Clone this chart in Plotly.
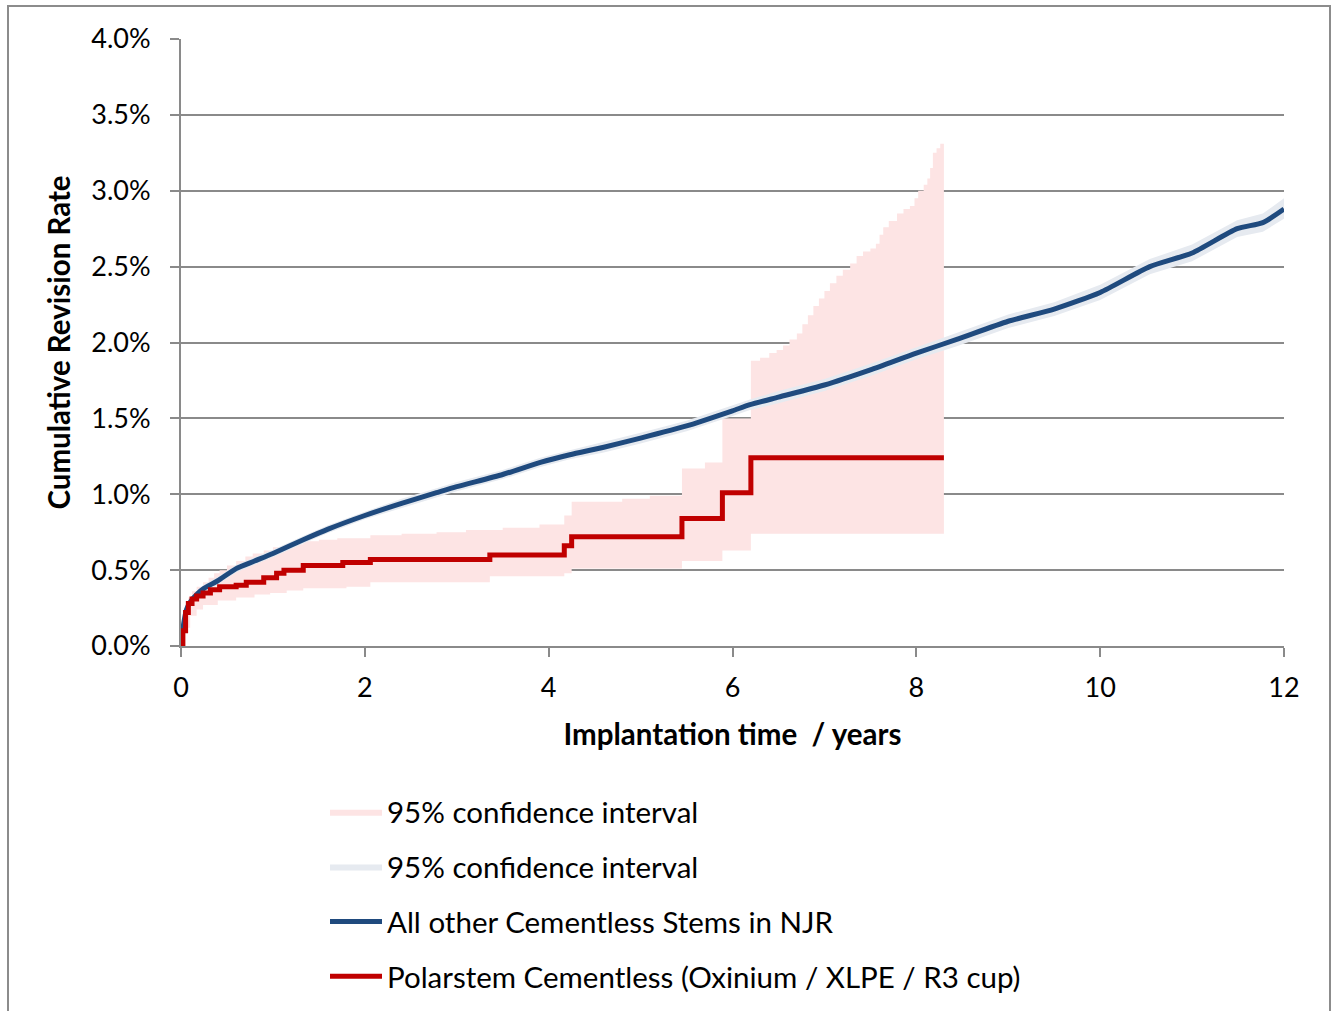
import plotly.graph_objects as go

# ---- Data (years, cumulative revision rate in %) ----
njr_x = [0, 0.03, 0.06, 0.1, 0.17, 0.25, 0.4, 0.6, 0.8, 1.0, 1.33, 1.6, 2.0, 2.4, 2.78, 3.0,
         3.5, 3.91, 4.23, 4.6, 5.0, 5.5, 6.0, 6.19, 6.5, 7.0, 7.5, 8.0, 8.44, 9.0, 9.5, 10.0,
         10.54, 11.0, 11.49, 11.77, 12.0]
njr_y = [0, 0.15, 0.24, 0.29, 0.34, 0.38, 0.43, 0.51, 0.56, 0.61, 0.70, 0.77, 0.86, 0.94, 1.01, 1.05,
         1.13, 1.21, 1.26, 1.31, 1.37, 1.45, 1.55, 1.59, 1.64, 1.72, 1.82, 1.93, 2.02, 2.14, 2.22, 2.33,
         2.50, 2.59, 2.75, 2.79, 2.88]
njr_lo = [0, 0.14, 0.225, 0.27, 0.32, 0.355, 0.405, 0.485, 0.535, 0.585, 0.675, 0.745, 0.835, 0.91, 0.98, 1.02,
          1.10, 1.18, 1.23, 1.275, 1.335, 1.415, 1.515, 1.555, 1.60, 1.68, 1.78, 1.89, 1.975, 2.095, 2.175, 2.28,
          2.45, 2.535, 2.695, 2.73, 2.815]
njr_hi = [0, 0.16, 0.255, 0.31, 0.36, 0.405, 0.455, 0.535, 0.585, 0.635, 0.725, 0.795, 0.885, 0.97, 1.04, 1.08,
          1.16, 1.24, 1.29, 1.345, 1.405, 1.485, 1.585, 1.625, 1.68, 1.76, 1.86, 1.97, 2.065, 2.185, 2.265, 2.38,
          2.55, 2.645, 2.805, 2.85, 2.95]

polar_x = [0, 0.02, 0.05, 0.08, 0.12, 0.17, 0.24, 0.32, 0.42, 0.6, 0.71, 0.9, 1.04, 1.12, 1.33, 1.76,
           2.06, 3.36, 4.17, 4.25, 5.45, 5.89, 6.2, 8.3]
polar_y = [0, 0.10, 0.22, 0.28, 0.31, 0.33, 0.35, 0.37, 0.39, 0.40, 0.42, 0.45, 0.48, 0.50, 0.53, 0.55,
           0.57, 0.60, 0.66, 0.72, 0.84, 1.01, 1.24, 1.24]

polar_hi_x = [0, 0.02, 0.05, 0.08, 0.12, 0.17, 0.24, 0.3, 0.36, 0.42, 0.5, 0.6, 0.7, 0.78, 0.9, 1.0, 1.15,
              1.33, 1.5, 1.7, 2.06, 2.4, 2.78, 3.1, 3.5, 3.9, 4.17,
              4.25, 4.8, 5.1, 5.45, 5.7, 5.89,
              6.2, 6.3, 6.4, 6.48, 6.55, 6.62, 6.7, 6.76, 6.82, 6.88, 6.94, 7.0, 7.06, 7.13, 7.2, 7.28,
              7.35, 7.42, 7.5, 7.56, 7.6, 7.64, 7.7, 7.79, 7.86, 7.93, 7.98, 8.02, 8.08, 8.12, 8.15, 8.18,
              8.22, 8.26, 8.3]
polar_hi_y = [0, 0.12, 0.24, 0.32, 0.36, 0.39, 0.42, 0.45, 0.48, 0.50, 0.53, 0.56, 0.59, 0.61, 0.63, 0.65, 0.67,
              0.69, 0.70, 0.71, 0.73, 0.74, 0.75, 0.765, 0.78, 0.80, 0.86,
              0.95, 0.97, 0.99, 1.17, 1.21, 1.50,
              1.88, 1.90, 1.93, 1.95, 1.98, 2.02, 2.06, 2.12, 2.18, 2.24, 2.29, 2.34, 2.39, 2.44, 2.48, 2.52,
              2.57, 2.60, 2.62, 2.65, 2.71, 2.76, 2.80, 2.85, 2.88, 2.90, 2.95, 3.00, 3.04, 3.08, 3.15, 3.25,
              3.28, 3.31, 3.35]
polar_lo_x = [0, 0.05, 0.1, 0.17, 0.24, 0.4, 0.6, 0.8, 0.97, 1.15, 1.33, 1.8, 2.06, 3.36, 4.17, 4.25, 5.45, 5.89, 6.2, 8.3]
polar_lo_y = [0, 0.12, 0.20, 0.24, 0.27, 0.30, 0.32, 0.34, 0.35, 0.365, 0.38, 0.39, 0.42, 0.46, 0.48, 0.51, 0.56, 0.63, 0.74, 0.74]

x_ticks = [0, 2, 4, 6, 8, 10, 12]
y_ticks = [0, 0.5, 1.0, 1.5, 2.0, 2.5, 3.0, 3.5, 4.0]

BLUE = "#1F4A7E"
RED = "#C00000"
PINK = "#FDE4E4"
GREYBLUE = "#E6EAF0"
GRID = "#8A8A8A"
FONT = "Lato"

fig = go.Figure()

# Pink CI (Polarstem)
fig.add_trace(go.Scatter(x=polar_lo_x, y=polar_lo_y, mode="lines", line=dict(width=0, shape="hv"),
                         showlegend=False, hoverinfo="skip"))
fig.add_trace(go.Scatter(x=polar_hi_x, y=polar_hi_y, mode="lines", line=dict(width=0, shape="hv"),
                         fill="tonexty", fillcolor=PINK, name="95% confidence interval",
                         legendgroup="a", legendrank=1))
# Grey CI (NJR)
fig.add_trace(go.Scatter(x=njr_x, y=njr_lo, mode="lines", line=dict(width=0),
                         showlegend=False, hoverinfo="skip"))
fig.add_trace(go.Scatter(x=njr_x, y=njr_hi, mode="lines", line=dict(width=0),
                         fill="tonexty", fillcolor=GREYBLUE, name="95% confidence interval",
                         legendgroup="b", legendrank=2))
# Lines
fig.add_trace(go.Scatter(x=njr_x, y=njr_y, mode="lines", line=dict(color=BLUE, width=5, shape="spline", smoothing=0.6),
                         name="All other Cementless Stems in NJR", legendgroup="c", legendrank=3))
fig.add_trace(go.Scatter(x=polar_x, y=polar_y, mode="lines", line=dict(color=RED, width=5, shape="hv"),
                         name="Polarstem Cementless (Oxinium / XLPE / R3 cup)", legendgroup="d", legendrank=4))

# figure is taller than the window so the legend never forces the margins;
# the page is clipped at the window height
W, H = 1337, 1060
L, T = 181, 39
PW, PH = 1103, 607
R = W - L - PW
B = H - T - PH

def page_x(px):
    return (px - L) / PW

def page_y(py):
    return (T + PH - py) / PH

fig.add_shape(type="rect", xref="paper", yref="paper",
              x0=page_x(8), x1=page_x(1330), y0=page_y(1040), y1=page_y(6),
              line=dict(color="#8C8C8C", width=2), fillcolor="rgba(0,0,0,0)", layer="below")

fig.update_layout(
    width=W, height=H,
    margin=dict(l=L, r=R, t=T, b=B),
    plot_bgcolor="white", paper_bgcolor="white",
    font=dict(family=FONT, color="black", size=27),
    showlegend=True,
    legend=dict(x=page_x(325), y=page_y(786), xanchor="left", yanchor="top",
                font=dict(family=FONT, size=29.5, color="black"), itemwidth=52,
                tracegroupgap=13.5, traceorder="grouped", bgcolor="rgba(0,0,0,0)"),
    xaxis=dict(range=[0, 12], tickvals=x_ticks, ticktext=[str(v) for v in x_ticks],
               showgrid=False, showline=True, linecolor=GRID, linewidth=2,
               ticks="outside", ticklen=9, tickwidth=2, tickcolor=GRID,
               tickfont=dict(family=FONT, size=27), zeroline=False, ticklabelstandoff=8,
               title=dict(text="<b>Implantation time  / years</b>", font=dict(family=FONT, size=29.5), standoff=22)),
    yaxis=dict(range=[0, 4], tickvals=y_ticks, ticktext=[f"{v:.1f}%" for v in y_ticks],
               showgrid=True, gridcolor=GRID, gridwidth=2,
               showline=True, linecolor=GRID, linewidth=2,
               ticks="outside", ticklen=9, tickwidth=2, tickcolor=GRID,
               tickfont=dict(family=FONT, size=27), zeroline=False, ticklabelstandoff=14,
               title=dict(text="<b>Cumulative Revision Rate</b>", font=dict(family=FONT, size=29.5), standoff=12)),
)

fig.write_html("out.html", config={"displayModeBar": False},
               post_script="document.documentElement.style.overflow='hidden';"
                           "document.body.style.margin='0';document.body.style.overflow='hidden';")
